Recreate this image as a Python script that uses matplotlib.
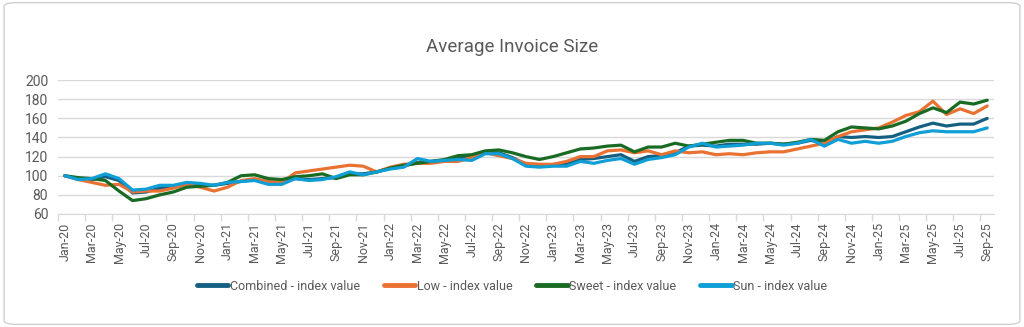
import matplotlib
matplotlib.use("Agg")
import matplotlib.pyplot as plt
from matplotlib.patches import FancyBboxPatch
import numpy as np
import pandas as pd

# monthly index values, Jan-20 .. Sep-25 (Jan-20 = 100)
months = pd.date_range("2020-01-01", "2025-09-01", freq="MS").strftime("%b-%y").tolist()

combined = [100, 97, 96, 99, 95, 82, 83, 87, 88, 91, 90, 90,
            92, 94, 96, 93, 93, 97, 96, 97, 98, 102, 102, 104,
            108, 110, 114, 115, 116, 118, 120, 124, 124, 119, 112, 111,
            111, 112, 117, 118, 120, 122, 115, 120, 121, 124, 131, 132,
            131, 133, 133, 133, 134, 133, 134, 137, 134, 141, 140, 141,
            140, 141, 146, 151, 155, 152, 154, 154, 160]
low = [100, 96, 93, 90, 91, 83, 84, 84, 87, 91, 88, 84,
       88, 95, 97, 94, 93, 103, 105, 107, 109, 111, 110, 104,
       109, 112, 113, 113, 115, 115, 119, 124, 121, 118, 113, 112,
       112, 115, 120, 120, 126, 127, 124, 126, 122, 126, 124, 125,
       122, 123, 122, 124, 125, 125, 128, 131, 134, 141, 146, 148,
       150, 156, 163, 167, 178, 164, 170, 165, 173]
sweet = [100, 98, 97, 95, 84, 74, 76, 80, 83, 88, 89, 90,
         93, 100, 101, 97, 96, 99, 100, 102, 97, 101, 101, 104,
         108, 111, 113, 115, 117, 121, 122, 126, 127, 124, 120, 117,
         120, 124, 128, 129, 131, 132, 125, 130, 130, 134, 131, 133,
         135, 137, 137, 134, 134, 133, 135, 138, 137, 146, 151, 150,
         149, 152, 157, 165, 171, 166, 177, 175, 179]
sun = [100, 96, 97, 102, 97, 85, 86, 90, 90, 93, 92, 90,
       93, 94, 95, 91, 91, 97, 95, 96, 99, 104, 101, 104,
       107, 109, 118, 115, 116, 117, 116, 123, 123, 118, 110, 109,
       110, 110, 115, 113, 116, 118, 112, 117, 119, 122, 130, 134,
       130, 131, 132, 134, 134, 132, 134, 138, 131, 138, 134, 136,
       134, 136, 141, 145, 147, 146, 146, 146, 150]

series = [
    ("Combined - index value", combined, "#156082"),
    ("Low - index value", low, "#E97132"),
    ("Sweet - index value", sweet, "#196B24"),
    ("Sun - index value", sun, "#0F9ED5"),
]

plt.rcParams["font.family"] = ["Roboto", "DejaVu Sans"]
text_col = "#595959"

fig = plt.figure(figsize=(10.24, 3.27), dpi=100)
fig.patches.append(FancyBboxPatch((0.004, 0.008), 0.992, 0.984,
                                  boxstyle="round,pad=0,rounding_size=0.012",
                                  transform=fig.transFigure, facecolor="white",
                                  edgecolor="#D0D0D0", lw=1.0, zorder=-10))
ax = fig.add_axes([0.0566, 0.3456, 0.9141, 0.4094])
ax.set_facecolor("none")

x = np.arange(len(months))
for name, vals, col in series:
    ax.plot(x, vals, color=col, lw=2.3, label=name, solid_joinstyle="round",
            solid_capstyle="round")

ax.set_xlim(-0.5, len(months) - 0.5)
ax.set_ylim(60, 200)
ax.set_yticks(range(60, 201, 20))
ax.grid(axis="y", color="#D9D9D9", lw=1.0)
ax.set_axisbelow(True)

ax.set_xticks(x[::2])
ax.set_xticklabels(months[::2], rotation=90)
ax.set_xticks(np.arange(-0.5, len(months), 2), minor=True)
ax.tick_params(axis="x", which="major", length=0, pad=6, labelsize=9, labelcolor=text_col)
ax.tick_params(axis="x", which="minor", length=5, color="#D9D9D9", width=1)
ax.tick_params(axis="y", length=0, pad=7, labelsize=10, labelcolor=text_col)

for side in ("top", "right", "left"):
    ax.spines[side].set_visible(False)
ax.spines["bottom"].set_color("#D9D9D9")

fig.text(0.5, 0.855, "Average Invoice Size", ha="center", va="center",
         fontsize=13.5, color=text_col)

leg = fig.legend(loc="center", bbox_to_anchor=(0.5, 0.125), ncol=4, frameon=False,
                 fontsize=9, labelcolor=text_col, handlelength=2.55, handletextpad=0.1,
                 columnspacing=1.9)
for h in leg.legend_handles:
    h.set_linewidth(3.5)

fig.savefig("out.png", dpi=100)
